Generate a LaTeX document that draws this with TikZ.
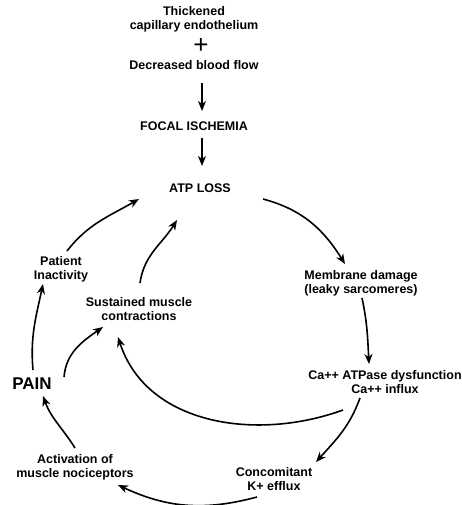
\documentclass[tikz,border=0pt]{standalone}
\usepackage{fontspec}
\setmainfont{Liberation Sans}
\usetikzlibrary{arrows.meta}
\begin{document}
\begin{tikzpicture}[x=1pt,y=-1pt,
  lbl/.style={font=\bfseries\fontsize{12.5}{14}\selectfont, align=center, inner sep=0pt},
  big/.style={font=\bfseries\fontsize{17}{19}\selectfont, inner sep=0pt},
  arr/.style={line width=1.6pt, -{Stealth[length=10pt,width=8pt,inset=3pt]}}]
\useasboundingbox (0,0) rectangle (462,505);
% nodes
\node[lbl] (thick) at (194,19) {Thickened\\capillary endothelium};
\node[font=\fontsize{26}{26}\selectfont, inner sep=0pt] (plus) at (201,46) {+};
\node[lbl] (decr) at (194,65) {Decreased blood flow};
\node[lbl] (focal) at (194,126) {FOCAL ISCHEMIA};
\node[lbl] (atp) at (200,188) {ATP LOSS};
\node[lbl] (memb) at (361,283) {Membrane damage\\(leaky sarcomeres)};
\node[lbl] (ca) at (385,382) {Ca++ ATPase dysfunction\\Ca++ influx};
\node[lbl] (conc) at (274,479) {Concomitant\\K+ efflux};
\node[lbl] (activ) at (75,467) {Activation of\\muscle nociceptors};
\node[big] (pain) at (32,384) {PAIN};
\node[lbl] (patient) at (61,269) {Patient\\Inactivity};
\node[lbl] (sust) at (139,309) {Sustained muscle\\contractions};
% arrow end points
\coordinate (decrS) at (202,83);   \coordinate (focalN) at (202,111);
\coordinate (focalS) at (202,138); \coordinate (atpN) at (202,166);
\coordinate (atpE) at (263,199);   \coordinate (membN) at (345,264);
\coordinate (membS) at (362,298);  \coordinate (caN) at (369,364);
\coordinate (caS) at (360,398);    \coordinate (concN) at (316,462);
\coordinate (caW) at (343,410);    \coordinate (sustS) at (118,337);
\coordinate (concS) at (257,497);  \coordinate (activE) at (118,485);
\coordinate (activN) at (75,448);  \coordinate (painS) at (43,396);
\coordinate (painN) at (33,370);   \coordinate (patientS) at (43,284);
\coordinate (painNE) at (64,377);  \coordinate (sustW) at (103,327);
\coordinate (patientN) at (67,251);\coordinate (atpW) at (139,199);
\coordinate (sustN) at (140,283);  \coordinate (atpSW) at (177,220);
% connectors
\draw[arr] (decrS) -- (focalN);
\draw[arr] (focalS) -- (atpN);
\draw[arr] (atpE) to[out=-15,in=122] (membN);
\draw[arr] (membS) to[out=-78,in=93] (caN);
\draw[arr] (caS) to[out=-110,in=48] (concN);
\draw[arr] (caW) to[out=200,in=-72] (sustS);
\draw[arr] (concS) to[out=195,in=-25] (activE);
\draw[arr] (activN) to[out=122,in=-70] (painS);
\draw[arr] (painN) to[out=95,in=-102] (patientS);
\draw[arr] (painNE) to[out=85,in=-145] (sustW);
\draw[arr] (patientN) to[out=52,in=-150] (atpW);
\draw[arr] (sustN) to[out=82,in=-122] (atpSW);
\end{tikzpicture}
\end{document}
